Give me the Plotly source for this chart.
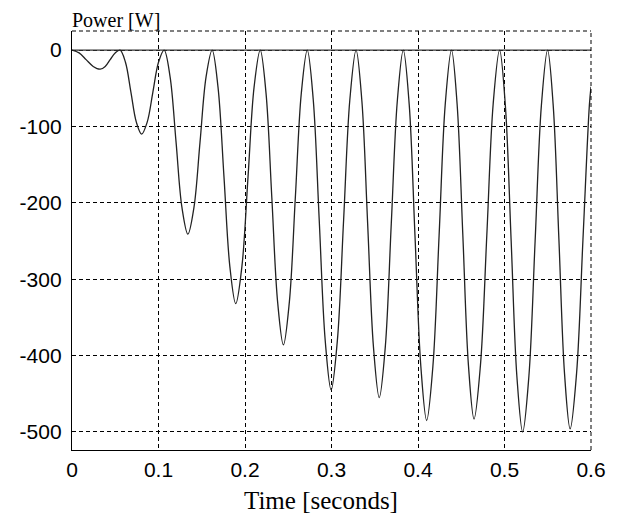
import plotly.graph_objects as go

# Time samples [s] and power [W]
time_s = [
    0.0, 0.0082, 0.0163, 0.0245, 0.0326, 0.0384, 0.0441, 0.0499,
    0.0556, 0.0618, 0.0681, 0.0743, 0.0805, 0.0870, 0.0935, 0.1000,
    0.1065, 0.1134, 0.1203, 0.1271, 0.1340, 0.1410, 0.1480, 0.1550,
    0.1620, 0.1688, 0.1757, 0.1825, 0.1893, 0.1964, 0.2035, 0.2105,
    0.2176, 0.2243, 0.2310, 0.2377, 0.2444, 0.2513, 0.2582, 0.2651,
    0.2720, 0.2789, 0.2858, 0.2927, 0.2996, 0.3068, 0.3140, 0.3212,
    0.3284, 0.3351, 0.3418, 0.3485, 0.3552, 0.3622, 0.3691, 0.3761,
    0.3830, 0.3898, 0.3965, 0.4033, 0.4100, 0.4172, 0.4244, 0.4315,
    0.4387, 0.4452, 0.4518, 0.4583, 0.4648, 0.4722, 0.4796, 0.4869,
    0.4943, 0.5010, 0.5077, 0.5143, 0.5210, 0.5282, 0.5354, 0.5426,
    0.5498, 0.5563, 0.5629, 0.5694, 0.5759, 0.5833, 0.5907, 0.5981,
    0.6000,
]
power_w = [
    0, -3.7, -12.5, -21.4, -25, -21.4, -12.5, -3.7,
    0, -16, -55, -94, -110, -94, -55, -16,
    0, -35, -120.5, -206, -241, -206, -120.5, -35,
    0, -48.5, -166, -283.5, -332, -283.5, -166, -48.5,
    0, -56.4, -193, -329.6, -386, -329.6, -193, -56.4,
    0, -65, -222.5, -380, -445, -380, -222.5, -65,
    0, -66.4, -227.5, -388.6, -455, -388.6, -227.5, -66.4,
    0, -70.8, -242.5, -414.2, -485, -414.2, -242.5, -70.8,
    0, -70.5, -241.5, -412.5, -483, -412.5, -241.5, -70.5,
    0, -73, -250, -427, -500, -427, -250, -73,
    0, -72.4, -248, -423.6, -496, -423.6, -248, -72.4,
    -48,
]
zero_t = [0.0, 0.6]
zero_p = [0, 0]

x_ticks = [0, 0.1, 0.2, 0.3, 0.4, 0.5, 0.6]
x_tick_text = ["0", "0.1", "0.2", "0.3", "0.4", "0.5", "0.6"]
y_ticks = [-500, -400, -300, -200, -100, 0]
y_tick_text = ["-500", "-400", "-300", "-200", "-100", "0"]

fig = go.Figure()
fig.add_trace(go.Scatter(x=zero_t, y=zero_p, mode="lines",
                         line=dict(color="#333333", width=1.3),
                         hoverinfo="skip", showlegend=False))
fig.add_trace(go.Scatter(x=time_s, y=power_w, mode="lines",
                         line=dict(color="#222222", width=1.3, shape="spline", smoothing=1.0),
                         showlegend=False))

grid = dict(showgrid=True, gridcolor="#000000", gridwidth=1, griddash="4px,3px")
fig.update_xaxes(range=[0, 0.6], tickvals=x_ticks, ticktext=x_tick_text,
                 showline=True, linecolor="#000000", linewidth=1.3, mirror=False,
                 zeroline=False, ticks="", ticklabelstandoff=1,
                 tickfont=dict(family="Liberation Sans, Arial", size=21, color="#000000"),
                 **grid)
fig.update_yaxes(range=[-523.6, 25], tickvals=y_ticks, ticktext=y_tick_text,
                 showline=True, linecolor="#000000", linewidth=1.3, mirror=False,
                 zeroline=False, ticks="", ticklabelstandoff=5,
                 tickfont=dict(family="Liberation Sans, Arial", size=21, color="#000000"),
                 **grid)

# dashed top and right frame edges
fig.add_shape(type="line", xref="paper", yref="paper", x0=0, x1=1, y0=1, y1=1,
              line=dict(color="#000000", width=1, dash="4px,3px"))
fig.add_shape(type="line", xref="paper", yref="paper", x0=1, x1=1, y0=0, y1=1,
              line=dict(color="#000000", width=1, dash="4px,3px"))

fig.add_annotation(text="Power [W]", xref="paper", yref="paper", x=-0.002, y=1,
                   xanchor="left", yanchor="bottom", yshift=-1, borderpad=0, showarrow=False,
                   font=dict(family="Liberation Serif, Times New Roman", size=20, color="#000000"))
fig.add_annotation(text="Time [seconds]", xref="paper", yref="paper", x=0.479, y=-0.12,
                   xanchor="center", yanchor="middle", borderpad=0, showarrow=False,
                   font=dict(family="Liberation Serif, Times New Roman", size=25, color="#000000"))

fig.update_layout(width=610, height=508, margin=dict(l=62, r=26, t=23, b=66),
                  paper_bgcolor="#ffffff", plot_bgcolor="#ffffff")

fig.write_html("out.html")
